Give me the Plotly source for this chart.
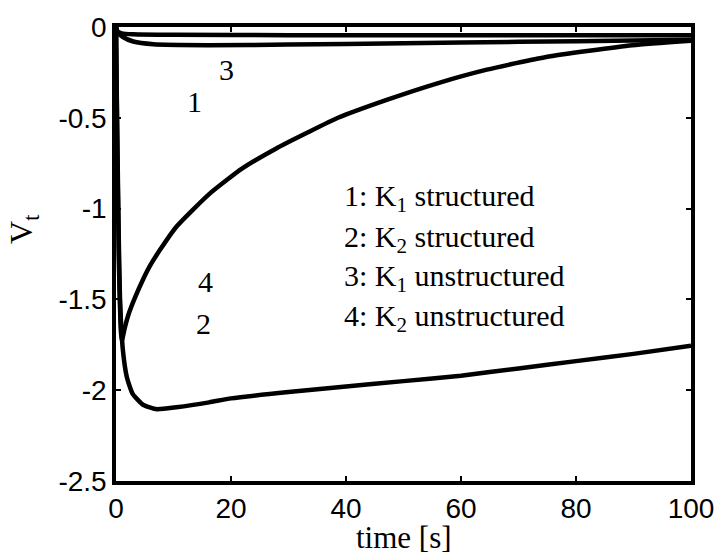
import plotly.graph_objects as go

# Curve data (time in s, V_t)
t1 = [0, 0.3, 1.2, 3, 6.5, 16, 30, 40, 60, 80, 100]
v1 = [0, -0.03, -0.055, -0.08, -0.095, -0.10, -0.097, -0.093, -0.085, -0.078, -0.07]

t2 = [0, 0.2, 0.5, 0.7, 1.2, 1.9, 2.9, 4.7, 7.1, 10.5, 16.2, 20, 30, 40, 50, 60, 70, 80, 90, 100]
v2 = [0, -0.55, -1.2, -1.5, -1.78, -1.93, -2.02, -2.08, -2.105, -2.094, -2.067, -2.045,
      -2.01, -1.98, -1.95, -1.92, -1.88, -1.84, -1.80, -1.755]

t3 = [0, 0.3, 1, 3, 10, 30, 60, 100]
v3 = [0, -0.025, -0.035, -0.04, -0.043, -0.045, -0.045, -0.045]

t4 = [0, 0.2, 0.5, 0.8, 1.0, 1.5, 2.2, 3.3, 4.7, 6.0, 7.6, 10.5, 16.2, 21.9, 27.8, 33.4,
      38.6, 47.2, 55.9, 64.5, 74.8, 89.8, 100]
v4 = [0, -0.6, -1.3, -1.65, -1.73, -1.66, -1.58, -1.49, -1.39, -1.31, -1.23, -1.10, -0.92,
      -0.78, -0.67, -0.58, -0.50, -0.40, -0.31, -0.235, -0.165, -0.10, -0.075]

x_ticks = [0, 20, 40, 60, 80, 100]
y_ticks = [-2.5, -2, -1.5, -1, -0.5, 0]
y_tick_text = ["-2.5", "-2", "-1.5", "-1", "-0.5", "0"]

curve_labels = ["1", "3", "4", "2"]
curve_label_x = [13.6, 19.3, 15.5, 15.3]
curve_label_y = [-0.41, -0.236, -1.40, -1.63]

legend_lines = ["1: K<sub>1</sub> structured", "2: K<sub>2</sub> structured",
                "3: K<sub>1</sub> unstructured", "4: K<sub>2</sub> unstructured"]
legend_y = [-0.94, -1.165, -1.38, -1.60]
legend_x = 39.3

fig = go.Figure()
for tt, vv in [(t1, v1), (t2, v2), (t3, v3), (t4, v4)]:
    fig.add_trace(go.Scatter(x=tt, y=vv, mode="lines",
                             line=dict(color="black", width=4.5, shape="spline", smoothing=0.5),
                             showlegend=False))

serif = "Liberation Serif, Times New Roman, serif"
sans = "Liberation Sans, Arial, sans-serif"

anns = []
for lab, lx, ly in zip(curve_labels, curve_label_x, curve_label_y):
    anns.append(dict(x=lx, y=ly, xref="x", yref="y", text=lab, showarrow=False,
                     font=dict(family=serif, size=30, color="black")))
for txt, ly in zip(legend_lines, legend_y):
    anns.append(dict(x=legend_x, y=ly, xref="x", yref="y", text=txt, showarrow=False,
                     xanchor="left", font=dict(family=serif, size=30, color="black")))
# axis titles
anns.append(dict(x=-0.162, y=0.555, xref="paper", yref="paper", text="V<sub>t</sub>",
                 showarrow=False, textangle=-90, xanchor="center", yanchor="middle",
                 font=dict(family=serif, size=32, color="black")))
anns.append(dict(x=0.5, y=-0.125, xref="paper", yref="paper", text="time [s]",
                 showarrow=False, xanchor="center", yanchor="middle",
                 font=dict(family=serif, size=31, color="black")))

fig.update_layout(
    width=726, height=557,
    margin=dict(l=116, r=31, t=25, b=76),
    paper_bgcolor="white", plot_bgcolor="white",
    annotations=anns,
    xaxis=dict(range=[0, 100], tickvals=x_ticks, showgrid=False, zeroline=False,
               showline=True, linecolor="black", linewidth=3.5, mirror="ticks",
               ticks="inside", ticklen=5, tickwidth=2, tickcolor="black",
               tickfont=dict(family=sans, size=28, color="black")),
    yaxis=dict(range=[-2.5, 0], tickvals=y_ticks, ticktext=y_tick_text, showgrid=False,
               zeroline=False, showline=True, linecolor="black", linewidth=3.5, mirror="ticks",
               ticks="inside", ticklen=5, tickwidth=2, tickcolor="black",
               tickfont=dict(family=sans, size=28, color="black")),
)

fig.write_html("out.html")
